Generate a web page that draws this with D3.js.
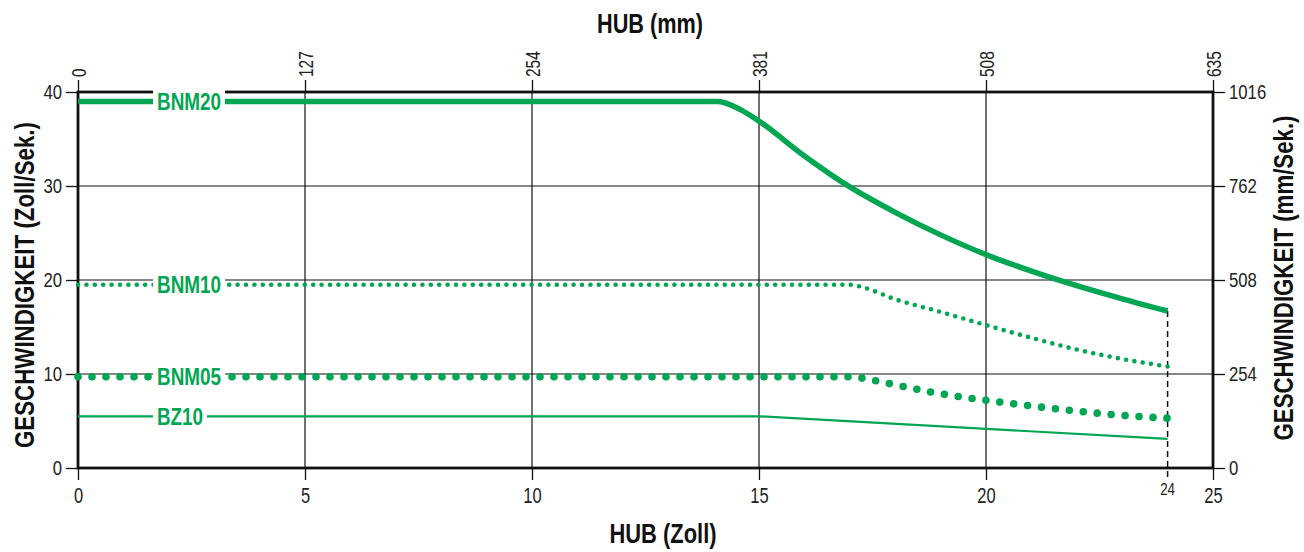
<!DOCTYPE html>
<html><head><meta charset="utf-8">
<script src="https://cdn.jsdelivr.net/npm/d3@7"></script>
<style>
body{margin:0;background:#fff;}
svg{display:block;}
text{font-family:"Liberation Sans",Arial,sans-serif;}
</style></head>
<body>
<svg id="chart" width="1304" height="552"></svg>
<script>
// ---- data ----
const xTicksZoll = [0, 5, 10, 15, 20, 25];
const xTicksMM = [0, 127, 254, 381, 508, 635];
const yTicksZoll = [0, 10, 20, 30, 40];
const yTicksMM = [0, 254, 508, 762, 1016];
const strokeEnd = 24;

const bnm20X = [0, 14.1, 14.6, 15, 16, 17, 18, 19, 20, 21, 22, 23, 24];
const bnm20Y = [39, 39, 38.1, 36.9, 33.2, 29.9, 27.2, 24.8, 22.7, 20.95, 19.4, 18.0, 16.7];

const bnm10X = [0, 17, 17.3, 18, 19, 20, 21, 22, 23, 24];
const bnm10Y = [19.5, 19.5, 19.2, 17.95, 16.6, 15.2, 13.85, 12.6, 11.6, 10.8];

const bnm05X = [0, 17, 17.5, 18, 19, 20, 21, 22, 23, 24];
const bnm05Y = [9.7, 9.7, 9.35, 8.85, 7.9, 7.2, 6.6, 6.05, 5.6, 5.3];

const bz10X = [0, 15, 24];
const bz10Y = [5.5, 5.5, 3.1];

const seriesNames = ["BNM20", "BNM10", "BNM05", "BZ10"];

// ---- drawing ----
const green = "#00a651";
const svg = d3.select("#chart");
const x = d3.scaleLinear().domain([0, 25]).range([78, 1213]);
const xmm = d3.scaleLinear().domain([0, 635]).range([78, 1213]);
const y = d3.scaleLinear().domain([0, 40]).range([468, 92]);
const ymm = d3.scaleLinear().domain([0, 1016]).range([468, 92]);

// narrow text helper: compress glyphs to a condensed width
function narrow(sel, perChar){
  sel.each(function(){
    const t = d3.select(this);
    const n = t.text().length;
    t.attr("textLength", n * perChar).attr("lengthAdjust", "spacingAndGlyphs");
  });
}

// gridlines
const grid = svg.append("g").attr("stroke", "#111").attr("stroke-width", 1.2);
grid.selectAll(".gx").data(xTicksZoll.slice(1, -1)).join("line")
  .attr("x1", d => x(d)).attr("x2", d => x(d)).attr("y1", y(0)).attr("y2", y(40));
grid.selectAll(".gy").data(yTicksZoll.slice(1, -1)).join("line")
  .attr("x1", x(0)).attr("x2", x(25)).attr("y1", d => y(d)).attr("y2", d => y(d));

// axes
function styleAxis(g){
  g.select(".domain").remove();
  g.selectAll(".tick line").attr("stroke", "#111").attr("stroke-width", 1.3);
  g.selectAll(".tick text").attr("fill", "#222").attr("font-family", null);
}
const axL = svg.append("g").attr("transform", `translate(${x(0)},0)`)
  .call(d3.axisLeft(y).tickValues(yTicksZoll).tickSize(12).tickPadding(4).tickFormat(d3.format("d")))
  .attr("font-size", 20).call(styleAxis);
axL.selectAll(".tick text").call(narrow, 9.3);
const axR = svg.append("g").attr("transform", `translate(${x(25)},0)`)
  .call(d3.axisRight(ymm).tickValues(yTicksMM).tickSize(12).tickPadding(4).tickFormat(d3.format("d")))
  .attr("font-size", 20).call(styleAxis);
axR.selectAll(".tick text").call(narrow, 9.3);
const axB = svg.append("g").attr("transform", `translate(0,${y(0)})`)
  .call(d3.axisBottom(x).tickValues(xTicksZoll).tickSize(12).tickPadding(7).tickFormat(d3.format("d")))
  .attr("font-size", 22).call(styleAxis);
axB.selectAll(".tick text").call(narrow, 9.2);
const axT = svg.append("g").attr("transform", `translate(0,${y(40)})`)
  .call(d3.axisTop(xmm).tickValues(xTicksMM).tickSize(12).tickPadding(3).tickFormat(d3.format("d")))
  .attr("font-size", 20).call(styleAxis);
axT.selectAll(".tick text").attr("transform", "rotate(-90)")
  .attr("x", 15).attr("y", 0).attr("dy", "0.35em").attr("text-anchor", "start")
  .call(narrow, 8.6);

// frame
svg.append("rect").attr("x", x(0)).attr("y", y(40))
  .attr("width", x(25) - x(0)).attr("height", y(0) - y(40))
  .attr("fill", "none").attr("stroke", "#111").attr("stroke-width", 2.8);

// stroke end marker (24)
svg.append("line").attr("x1", x(strokeEnd)).attr("x2", x(strokeEnd))
  .attr("y1", y(bnm20Y[bnm20Y.length - 1])).attr("y2", y(0) + 10)
  .attr("stroke", "#111").attr("stroke-width", 1.5).attr("stroke-dasharray", "6,4");
svg.append("text").attr("x", x(strokeEnd)).attr("y", y(0) + 27)
  .attr("text-anchor", "middle").attr("font-size", 16).attr("fill", "#222").text(strokeEnd)
  .call(narrow, 7.4);

// series
const smooth = d3.line().x(d => x(d[0])).y(d => y(d[1])).curve(d3.curveMonotoneX);
const straight = d3.line().x(d => x(d[0])).y(d => y(d[1]));
const zip = (a, b) => a.map((v, i) => [v, b[i]]);
const series = [
  {name: seriesNames[0], pts: zip(bnm20X, bnm20Y), w: 5.5, dash: null, cap: "butt", gen: smooth, lw: 64},
  {name: seriesNames[1], pts: zip(bnm10X, bnm10Y), w: 4.6, dash: "0,8.4", cap: "round", gen: smooth, lw: 64},
  {name: seriesNames[2], pts: zip(bnm05X, bnm05Y), w: 7.6, dash: "0,14", cap: "round", gen: smooth, lw: 64},
  {name: seriesNames[3], pts: zip(bz10X, bz10Y), w: 2.2, dash: null, cap: "butt", gen: straight, lw: 46}
];
svg.append("g").selectAll("path").data(series).join("path")
  .attr("d", d => d.gen(d.pts))
  .attr("fill", "none").attr("stroke", green)
  .attr("stroke-width", d => d.w)
  .attr("stroke-linecap", d => d.cap)
  .attr("stroke-dasharray", d => d.dash);

// inline labels with white knock-out
const labG = svg.append("g");
series.forEach(s => {
  const ly = y(s.pts[0][1]);
  const g = labG.append("g");
  g.append("rect").attr("fill", "#fff")
    .attr("x", 153).attr("y", ly - 12).attr("width", s.lw + 8).attr("height", 24);
  g.append("text").attr("x", 157).attr("y", ly).attr("dy", "0.36em")
    .attr("font-size", 24).attr("font-weight", "bold").attr("fill", green).text(s.name)
    .attr("textLength", s.lw).attr("lengthAdjust", "spacingAndGlyphs");
});

// titles
function title(t, len){ t.attr("font-size", 28).attr("font-weight", "bold").attr("fill", "#111")
  .attr("text-anchor", "middle").attr("textLength", len).attr("lengthAdjust", "spacingAndGlyphs"); }
svg.append("text").attr("x", 650).attr("y", 33).text("HUB (mm)").call(title, 106);
svg.append("text").attr("x", 663).attr("y", 543).text("HUB (Zoll)").call(title, 107);
svg.append("text").attr("transform", "translate(34,285) rotate(-90)")
  .text("GESCHWINDIGKEIT (Zoll/Sek.)").call(title, 326);
svg.append("text").attr("transform", "translate(1293,278) rotate(-90)")
  .text("GESCHWINDIGKEIT (mm/Sek.)").call(title, 325);
</script>
</body></html>
